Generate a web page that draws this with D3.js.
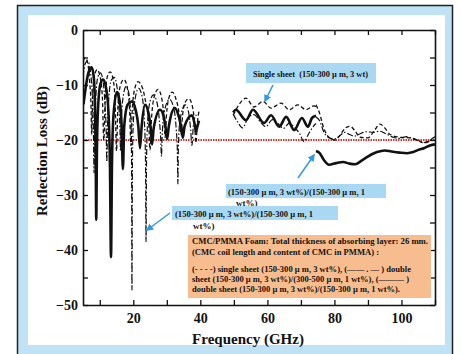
<!DOCTYPE html>
<html><head><meta charset="utf-8">
<script src="https://cdn.jsdelivr.net/npm/d3@7"></script>
<style>body{margin:0;background:#fff}svg{display:block}text{font-family:"Liberation Serif","Times New Roman",serif;font-weight:bold;fill:#111}</style>
</head><body><svg id="c" width="462" height="354"></svg>
<script>
// ---------- data (frequency GHz, reflection loss dB) ----------
const xTicks = [10,20,30,40,50,60,70,80,90,100,110];
const xLabels = [20,40,60,80,100];
const yTicks = [-50,-45,-40,-35,-30,-25,-20,-15,-10,-5,0];
const yLabels = [-50,-40,-30,-20,-10,0];
const threshold = -20;

// single sheet (150-300 um, 3 wt%)  dashed
const singleBand1 = [[5.1,-5.6],[5.6,-5.0],[6.4,-6.0],[7.0,-9.5],[7.35,-13],[7.6,-19],[7.85,-13],[8.3,-8.8],[9.2,-7.2],[10.1,-8.5],[10.8,-12.5],[11.2,-20],[11.6,-13],[12.2,-8.6],[13.1,-7.6],[14.0,-9.0],[14.6,-13.5],[15.0,-22],[15.4,-14],[16.2,-10],[17.2,-9.0],[18.2,-10.5],[18.9,-14.5],[19.3,-21],[19.7,-14.5],[20.5,-10.5],[21.4,-9.4],[22.6,-10.3],[23.8,-13.5],[24.6,-17],[25.0,-21.8],[25.4,-16.5],[26.3,-12],[27.4,-10.8],[28.4,-12.2],[29.1,-15.5],[29.5,-19.5],[29.9,-15.5],[30.7,-12.2],[31.6,-11.3],[32.7,-12.5],[33.7,-15.5],[34.2,-19],[34.7,-15.5],[35.6,-13],[36.6,-12.5],[37.6,-13.8],[38.3,-17],[38.7,-20.5],[39.1,-17],[39.6,-14.8]];
const singleBand2 = [[49.8,-15.5],[51.5,-13.6],[53.6,-12.4],[56.0,-14.0],[58.7,-13.0],[61.1,-14.2],[64.1,-13.3],[66.5,-14.5],[69.1,-13.6],[71.5,-14.5],[73.9,-13.8],[74.5,-14.0]];
const singleBand3 = [[74.5,-13.6],[75.5,-15.0],[76.8,-17.8],[78.5,-19.6],[80.2,-20.0],[81.8,-19.0],[83.3,-17.8],[84.7,-17.5],[86.2,-18.4],[87.6,-19.5],[90.0,-19.6],[92.0,-18.2],[93.6,-17.1],[95.0,-17.8],[96.6,-19.0],[99.5,-19.5],[102.6,-19.6],[105.0,-20.1],[106.4,-20.5],[108.0,-20.2],[110.0,-19.4]];

// double sheet (150-300 um, 3 wt%)/(300-500 um, 1 wt%)  dash-dot
const dashDotBand1 = [[5.0,-8.5],[5.6,-6.2],[6.4,-5.6],[7.2,-7.5],[7.85,-13],[8.1,-18],[8.3,-26],[8.5,-18],[8.85,-12],[9.4,-8.6],[10.2,-7.8],[11.0,-9.4],[11.6,-14],[11.9,-18],[12.1,-24],[12.3,-18],[12.7,-12.5],[13.4,-9.2],[14.3,-8.6],[15.1,-10.2],[15.7,-14],[16.0,-17.5],[16.2,-22],[16.4,-17],[16.9,-12.5],[17.9,-10.2],[18.8,-12],[19.3,-17],[19.5,-25],[19.6,-47.3],[19.75,-24],[20.0,-17],[20.7,-12],[21.6,-10.6],[22.6,-12],[23.3,-16.5],[23.65,-24],[23.8,-38.5],[23.95,-24],[24.3,-16.5],[25.0,-13],[26.0,-11.8],[27.0,-13],[27.8,-16.5],[28.2,-20],[28.4,-23],[28.6,-19.5],[29.2,-15],[30.8,-12.6],[32.0,-14],[32.8,-18],[33.15,-22],[33.3,-28],[33.45,-21.5],[33.9,-16.5],[35.5,-13.6],[36.5,-15],[37.1,-18],[37.5,-21],[37.9,-17.5],[38.7,-15.5],[39.6,-15.5]];
const dashDotBand2 = [[49.8,-15.3],[51.2,-16.8],[52.6,-17.8],[54.2,-16.0],[56.0,-15.4],[58.0,-16.8],[59.5,-17.6],[61.5,-16.3],[63.0,-16.9],[64.8,-17.9],[66.6,-16.9],[68.2,-17.8],[69.6,-18.8],[70.9,-20.3],[72.2,-19.0],[73.6,-17.6],[74.5,-17.0]];
const dashDotBand3 = [[74.5,-15.8],[75.6,-16.5],[76.8,-18.5],[78.4,-19.6],[80.0,-19.8],[81.5,-19.3],[83.0,-18.6],[84.5,-19.0],[86.0,-19.3],[87.5,-18.9],[89.5,-18.5],[91.5,-18.6],[93.5,-18.4],[95.5,-18.9],[97.5,-19.5],[99.5,-19.7],[101.5,-19.4],[103.5,-19.8],[105.5,-20.2],[107.5,-20.5],[109.0,-19.9],[110.0,-19.4]];

// double sheet (150-300 um, 3 wt%)/(150-300 um, 1 wt%)  solid
const doubleBand1 = [[5.15,-13.5],[5.8,-10.5],[6.6,-7.8],[7.6,-6.8],[8.2,-8.5],[8.55,-13],[8.78,-22],[8.95,-34.5],[9.15,-22],[9.5,-14],[10.2,-9.8],[11.0,-9.0],[11.9,-10.6],[12.6,-15],[13.05,-25],[13.35,-41.3],[13.65,-24],[14.1,-15.5],[15.1,-11.3],[15.9,-12.8],[16.5,-17],[16.9,-25.3],[17.3,-17.5],[18.3,-13.6],[19.6,-13.0],[20.7,-14.5],[21.5,-17.5],[22.0,-21.5],[22.5,-17.5],[23.5,-13.6],[24.5,-15],[25.2,-18],[25.6,-20.8],[26.1,-17.8],[28.0,-14.5],[29.1,-15.8],[29.7,-18],[30.1,-19.8],[30.6,-17.5],[32.4,-14.2],[33.6,-15.8],[34.4,-18],[34.8,-19.6],[35.3,-17.5],[37.5,-15.5],[38.2,-16.8],[38.7,-18.5],[39.1,-17.6],[39.6,-16.5]];
const doubleBand2 = [[49.8,-15.0],[50.6,-14.5],[53.6,-16.4],[55.7,-14.5],[59.0,-16.9],[61.1,-15.5],[63.5,-17.6],[65.6,-15.8],[68.0,-18.2],[70.3,-16.0],[72.1,-17.6],[73.3,-16.0],[74.5,-15.6]];
const doubleBand3 = [[74.5,-22.0],[75.6,-22.4],[76.8,-23.6],[78.4,-24.5],[80.5,-24.2],[82.6,-24.0],[84.5,-24.3],[86.2,-24.4],[88.0,-23.8],[89.7,-23.1],[92.7,-22.2],[95.0,-21.9],[97.0,-22.1],[99.5,-22.3],[101.7,-22.4],[103.5,-22.2],[105.0,-21.8],[106.7,-21.5],[108.5,-21.0],[110.0,-20.8]];

const boxText1 = "Single sheet  (150-300 μ m, 3 wt)";
const boxText2 = ["(150-300 μ m, 3 wt%)/(150-300 μ m, 1", "wt%)"];
const boxText3 = ["(150-300 μ m, 3 wt%)/(150-300 μ m, 1", "wt%)"];
const noteLines = [
  "CMC/PMMA Foam: Total thickness of absorbing layer: 26 mm.",
  "(CMC coil length and content of CMC in PMMA) :",
  "(- - - -) single sheet (150-300 μ m, 3 wt%), (—— . — ) double",
  "sheet (150-300 μ m, 3 wt%)/(300-500 μ m, 1 wt%), (——— )",
  "double sheet (150-300 μ m, 3 wt%)/(150-300 μ m, 1 wt%)."
];

// ---------- drawing ----------
const svg = d3.select("#c");
const x = d3.scaleLinear().domain([5,110]).range([83,435]);
const y = d3.scaleLinear().domain([-50,0]).range([305,30]);

// frame
svg.append("rect").attr("x",17.5).attr("y",5.5).attr("width",435).attr("height",360)
  .attr("fill","#bfe3f5").attr("stroke","#222").attr("stroke-width",1.5);
svg.append("rect").attr("x",28).attr("y",15).attr("width",417).attr("height",330).attr("fill","#fff");

svg.append("defs").append("clipPath").attr("id","pc").append("rect")
  .attr("x",83).attr("y",30).attr("width",352).attr("height",275);
svg.select("defs").append("marker").attr("id","ah").attr("viewBox","0 0 10 10")
  .attr("refX",8).attr("refY",5).attr("markerWidth",5).attr("markerHeight",5).attr("orient","auto")
  .append("path").attr("d","M0,0L10,5L0,10z").attr("fill","#2f9ae0");

const plot = svg.append("g").attr("clip-path","url(#pc)");

// threshold line
plot.append("line").attr("x1",x(5)).attr("x2",x(110)).attr("y1",y(threshold)).attr("y2",y(threshold))
  .attr("stroke","#e0302a").attr("stroke-width",1.8).attr("stroke-dasharray","1.5,1");

const line = d3.line().x(d=>x(d[0])).y(d=>y(d[1])).curve(d3.curveMonotoneX);
const series = [
  {bands:[singleBand1,singleBand2,singleBand3], w:1.3, dash:"4,2.5"},
  {bands:[dashDotBand1,dashDotBand2,dashDotBand3], w:1.2, dash:"6,2,1.5,2"},
  {bands:[doubleBand1,doubleBand2,doubleBand3], w:2.6, dash:null}
];
series.forEach(s=>{
  s.bands.forEach(b=>{
    plot.append("path").attr("d",line(b)).attr("fill","none").attr("stroke","#111")
      .attr("stroke-width",s.w).attr("stroke-dasharray",s.dash).attr("stroke-linejoin","round");
  });
});

// axes
const fmt = d => yLabels.includes(d) ? d3.format("d")(d) : "";
const fmtX = d => xLabels.includes(d) ? d : "";
const gB = svg.append("g").attr("transform","translate(0,305)")
  .call(d3.axisBottom(x).tickValues(xTicks).tickSize(-5).tickSizeOuter(0).tickPadding(8).tickFormat(fmtX));
const gT = svg.append("g").attr("transform","translate(0,30)")
  .call(d3.axisTop(x).tickValues(xTicks).tickSize(-5).tickSizeOuter(0).tickFormat(""));
const gL = svg.append("g").attr("transform","translate(83,0)")
  .call(d3.axisLeft(y).tickValues(yTicks).tickSize(-5).tickSizeOuter(0).tickPadding(5).tickFormat(fmt));
const gR = svg.append("g").attr("transform","translate(435,0)")
  .call(d3.axisRight(y).tickValues(yTicks).tickSize(-5).tickSizeOuter(0).tickFormat(""));
[gB,gT,gL,gR].forEach(g=>{
  g.select(".domain").attr("stroke","#111").attr("stroke-width",1.6);
  g.selectAll(".tick line").attr("stroke","#111").attr("stroke-width",1.3);
  g.selectAll("text").attr("font-family",null).attr("font-size",null)
    .style("font-size","14px").style("fill","#111");
});

// axis titles
svg.append("text").attr("x",248).attr("y",344).attr("text-anchor","middle")
  .style("font-size","15px").text("Frequency (GHz)");
svg.append("text").attr("transform","translate(47,151) rotate(-90)").attr("text-anchor","middle")
  .style("font-size","15px").text("Reflection Loss (dB)");

// annotation boxes
const blue = "#a9d9f2";
svg.append("rect").attr("x",246).attr("y",63).attr("width",130).attr("height",20).attr("fill",blue);
svg.append("text").attr("x",253).attr("y",76.5).attr("textLength",115).attr("lengthAdjust","spacingAndGlyphs")
  .style("font-size","9px").style("white-space","pre").text(boxText1);
svg.append("line").attr("x1",273).attr("y1",85).attr("x2",265).attr("y2",101)
  .attr("stroke","#2f9ae0").attr("stroke-width",1.5).attr("marker-end","url(#ah)");

svg.append("rect").attr("x",226).attr("y",184).attr("width",160).attr("height",14).attr("fill",blue);
svg.append("text").attr("x",228).attr("y",194.5).attr("textLength",137).attr("lengthAdjust","spacingAndGlyphs")
  .style("font-size","9px").text(boxText2[0]);
svg.append("text").attr("x",236).attr("y",206).style("font-size","9px").text(boxText2[1]);
svg.append("line").attr("x1",298).attr("y1",178).attr("x2",314).attr("y2",155)
  .attr("stroke","#2f9ae0").attr("stroke-width",1.5).attr("marker-end","url(#ah)");

svg.append("rect").attr("x",172).attr("y",206).attr("width",166).attr("height",14).attr("fill",blue);
svg.append("text").attr("x",175).attr("y",216.5).attr("textLength",138).attr("lengthAdjust","spacingAndGlyphs")
  .style("font-size","9px").text(boxText3[0]);
svg.append("text").attr("x",193).attr("y",229).style("font-size","9px").text(boxText3[1]);
svg.append("line").attr("x1",170).attr("y1",213).attr("x2",147).attr("y2",230)
  .attr("stroke","#2f9ae0").attr("stroke-width",1.5).attr("marker-end","url(#ah)");

// note box
svg.append("rect").attr("x",188).attr("y",235).attr("width",243).attr("height",63).attr("fill","#f7bd8f");
const noteY = [243.5,254.5,272,282,292];
const noteW = [236,187,219,217,208];
noteLines.forEach((t,i)=>{
  svg.append("text").attr("x",192).attr("y",noteY[i]).attr("textLength",noteW[i])
    .attr("lengthAdjust","spacingAndGlyphs").style("font-size","9px").text(t);
});
</script></body></html>
